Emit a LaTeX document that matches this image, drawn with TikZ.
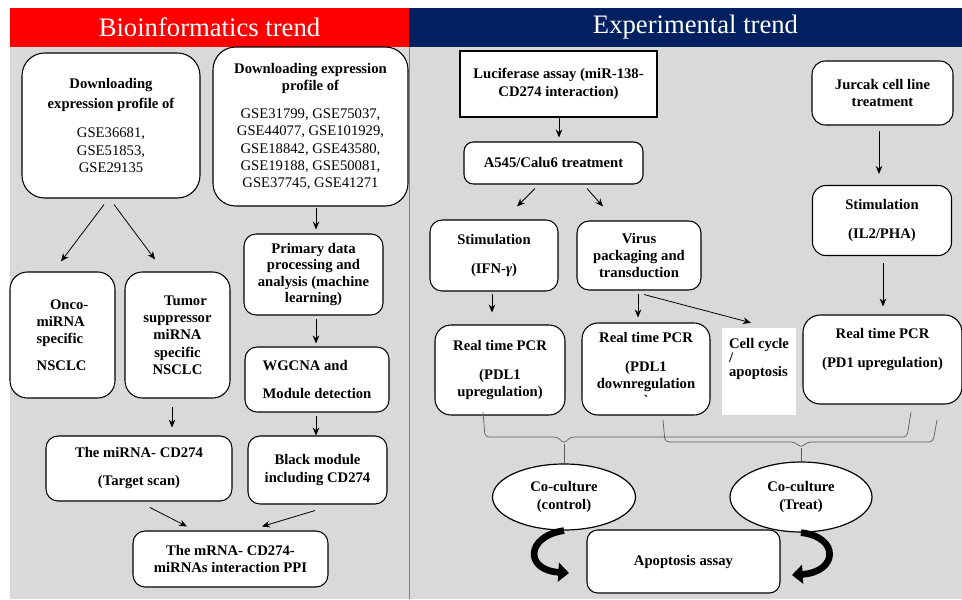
\documentclass[tikz,border=0pt]{standalone}
\usepackage{fontspec}
\setmainfont{Liberation Serif}
\usetikzlibrary{shapes, arrows, arrows.meta, positioning, calc}
\definecolor{panelgrey}{RGB}{217,217,217}
\definecolor{biored}{RGB}{255,0,0}
\definecolor{expnavy}{RGB}{0,32,96}
\definecolor{braceline}{RGB}{90,90,90}

\begin{document}
\begin{tikzpicture}[x=0.75pt, y=-0.75pt]
    \tikzstyle{block} = [rectangle, draw, line width=0.8pt, fill=white, rounded corners=9pt, align=center, font=\bfseries\fontsize{11}{13}\selectfont, inner sep=2pt]
    \tikzstyle{bigblock} = [block, rounded corners=17pt]
    \tikzstyle{plain} = [rectangle, draw, line width=0.8pt, fill=white, align=center, font=\bfseries\fontsize{11}{13}\selectfont]
    \tikzstyle{oval} = [ellipse, draw, line width=0.9pt, fill=white, align=center, font=\bfseries\fontsize{11}{13}\selectfont, inner sep=0pt]
    \tikzstyle{header} = [rectangle, text=white, font=\fontsize{20}{22}\selectfont, inner sep=0pt, minimum height=29.25pt]
    \tikzstyle{arrow} = [semithick, -{Stealth[length=6pt, width=5pt]}]
    \tikzstyle{bigarrow} = [line width=5pt, -{Triangle[width=14pt, length=8pt]}]
    \tikzstyle{brace} = [draw=braceline, line width=0.5pt, rounded corners=3pt]

    \useasboundingbox (0,0) rectangle (962,599);
    \fill [panelgrey] (10,47) rectangle (962,599);
    \draw [gray, line width=0.6pt] (409,47) -- (409,599);

    \node [header, fill=biored, minimum width=299.25pt] (bioinf) at (209.5,27.5) {Bioinformatics trend};
    \node [header, fill=expnavy, minimum width=414.75pt] (exper) at (685.5,27.5) {\hspace*{15pt}Experimental trend};

    % bioinformatics side
    \node [bigblock, minimum width=133.5pt, minimum height=108.75pt] (dlmirna) at (111,125.5) {Downloading\\[2pt]expression profile of\\[9pt]\mdseries GSE36681,\\\mdseries GSE51853,\\\mdseries GSE29135};
    \node [bigblock, minimum width=146.25pt, minimum height=119.25pt] (dlmrna) at (310.5,126.5) {Downloading expression\\profile of\\[8pt]\mdseries GSE31799, GSE75037,\\\mdseries GSE44077, GSE101929,\\\mdseries GSE18842, GSE43580,\\\mdseries GSE19188, GSE50081,\\\mdseries GSE37745, GSE41271};
    \node [block, rounded corners=13pt, align=left, minimum width=78.75pt, minimum height=94.5pt] (onco) at (62.5,335) {\hspace*{10pt}Onco-\\miRNA\\specific\\[7pt]NSCLC};
    \node [block, rounded corners=13pt, minimum width=78.75pt, minimum height=94.5pt] (tumor) at (177.5,335) {\hspace*{12pt}Tumor\\suppressor\\miRNA\\specific\\NSCLC};
    \node [block, font=\bfseries\fontsize{11}{12.2}\selectfont, minimum width=104.25pt, minimum height=60.75pt] (primary) at (313.5,274.5) {Primary data\\processing and\\analysis (machine\\learning)};
    \node [block, align=left, minimum width=108pt, minimum height=48.75pt] (wgcna) at (317,379.5) {WGCNA and\\[8pt]Module detection};
    \node [block, minimum width=139.5pt, minimum height=48.75pt] (target) at (139,468.5) {The miRNA- CD274\\[8pt](Target scan)};
    \node [block, minimum width=104.25pt, minimum height=51pt] (black) at (317.5,470) {Black module\\including CD274};
    \node [block, minimum width=146.25pt, minimum height=42pt] (ppi) at (230.5,559) {The mRNA- CD274-\\miRNAs interaction PPI};

    \draw [arrow] ($(dlmirna.south)+(-7,6)$) -- ($(onco.north)+(-1.5,-10)$);
    \draw [arrow] ($(dlmirna.south)+(3,6)$) -- ($(tumor.north)+(-22.5,-12)$);
    \draw [arrow] ($(dlmrna.south)+(5.5,1)$) -- ($(primary.north)+(2.5,-4)$);
    \draw [arrow] ($(primary.south)+(2.5,3)$) -- ($(wgcna.north)+(-1,-3)$);
    \draw [arrow] ($(target.north)+(33,-28)$) -- ($(target.north)+(33,-8)$);
    \draw [arrow] ($(wgcna.south)+(-1,3)$) -- ($(black.north)+(-1.5,0)$);
    \draw [arrow] ($(target.south)+(11,6)$) -- ($(ppi.north)+(-43.5,-4)$);
    \draw [arrow] ($(black.south)+(-2.5,6)$) -- ($(ppi.north)+(31.5,-4)$);

    % experimental side
    \node [plain, minimum width=147.75pt, minimum height=49.5pt] (luc) at (558.5,84) {Luciferase assay (miR-138-\\CD274 interaction)};
    \node [block, rounded corners=7pt, minimum width=134.25pt, minimum height=31.5pt] (a545) at (553.5,163) {A545/Calu6 treatment};
    \node [block, minimum width=96pt, minimum height=53.25pt] (stimifn) at (494,255.5) {Stimulation\\[9pt](IFN-\textit{γ})};
    \node [block, minimum width=93pt, minimum height=51.75pt] (virus) at (639,255.5) {Virus\\packaging and\\transduction};
    \node [block, rounded corners=12pt, minimum width=97.5pt, minimum height=67.5pt] (pcrup) at (500,370) {Real time PCR\\[8.5pt](PDL1\\upregulation)};
    \node [block, rounded corners=12pt, minimum width=96pt, minimum height=69pt] (pcrdown) at (646,369) {Real time PCR\\[8.5pt](PDL1\\downregulation\\\textasciigrave};
    \node [rectangle, fill=white, align=left, font=\bfseries\fontsize{11}{10.5}\selectfont, inner xsep=5pt, minimum width=55.5pt, minimum height=65.25pt] (cellcyc) at (759,371.5) {Cell cycle\\/\\apoptosis\\[10.5pt]\mbox{}};
    \node [block, rounded corners=10pt, minimum width=105.75pt, minimum height=48pt] (jurkat) at (882.5,93) {Jurcak cell line\\treatment};
    \node [block, rounded corners=10pt, minimum width=104.25pt, minimum height=52.5pt] (stimil) at (882,220.5) {Stimulation\\[8.5pt](IL2/PHA)};
    \node [block, rounded corners=13pt, minimum width=119.25pt, minimum height=66.75pt] (pcrpd) at (882.5,359.5) {Real time PCR\\[9pt](PD1 upregulation)\\[4pt]\mbox{}};

    \draw [arrow] ($(luc.south)+(0.5,0)$) -- ($(a545.north)+(5.5,-4)$);
    \draw [arrow] ($(a545.south)+(-18.5,4)$) -- ($(stimifn.north)+(23,-13)$);
    \draw [arrow] ($(a545.south)+(33.5,4)$) -- ($(virus.north)+(-36,-14)$);
    \draw [arrow] ($(stimifn.south)+(-2,2)$) -- ($(pcrup.north)+(-8,-12)$);
    \draw [arrow] ($(virus.south)+(-1,3)$) -- ($(pcrdown.north)+(-8,-5)$);
    \draw [arrow] ($(virus.south)+(5,4)$) -- ($(cellcyc.north)+(-8,-5)$);
    \draw [arrow] ($(jurkat.south)+(-3.5,5)$) -- ($(stimil.north)+(-3,-11)$);
    \draw [arrow] ($(stimil.south)+(1,7)$) -- ($(pcrpd.north)+(0.5,-8)$);

    % co-culture and apoptosis
    \node [oval, minimum width=107.25pt, minimum height=49.5pt] (ctrl) at (564,497) {Co-culture\\(control)};
    \node [oval, minimum width=106.5pt, minimum height=52.5pt] (treat) at (801,497) {Co-culture\\(Treat)};

    \draw [brace] (483,412) -- (485,437) -- (558,437) -- (564,444) -- (570,437) -- (907,437) -- (911,412);
    \draw [braceline, line width=0.5pt] (564,444) -- (ctrl.north);
    \draw [brace] (663,420) -- (665,442) -- (795,442) -- (801,448) -- (807,442) -- (933,442) -- (937,420);
    \draw [braceline, line width=0.5pt] (801,448) -- (treat.north);

    \coordinate (ctrlend) at (569,573);
    \coordinate (treatend) at (792,575);
    \draw [bigarrow] (ctrl.south) .. controls (526,536) and (524,570) .. (ctrlend);
    \draw [bigarrow] (treat.south) .. controls (840,537) and (838,572) .. (treatend);

    \node [block, rounded corners=8pt, minimum width=144.75pt, minimum height=47.25pt] (apop) at (683.5,561.5) {Apoptosis assay};
\end{tikzpicture}
\end{document}
